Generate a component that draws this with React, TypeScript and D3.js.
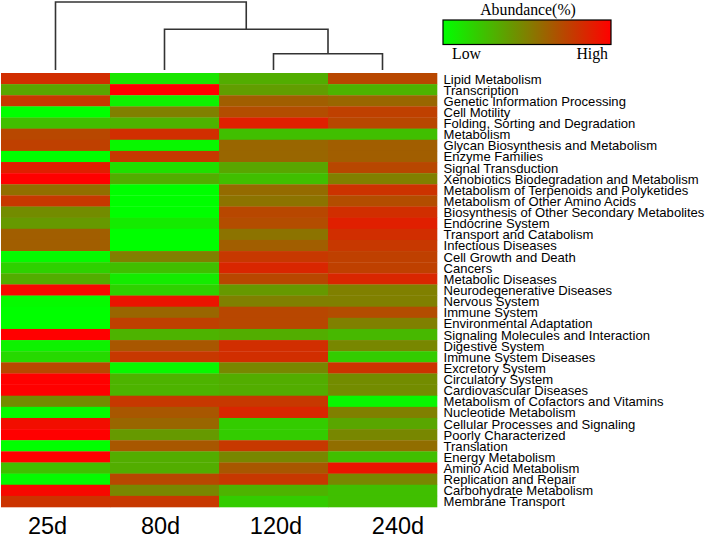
import React from "react";
import * as d3 from "d3";

const categories = [
  "Lipid Metabolism", "Transcription", "Genetic Information Processing", "Cell Motility",
  "Folding, Sorting and Degradation", "Metabolism", "Glycan Biosynthesis and Metabolism",
  "Enzyme Families", "Signal Transduction", "Xenobiotics Biodegradation and Metabolism",
  "Metabolism of Terpenoids and Polyketides", "Metabolism of Other Amino Acids",
  "Biosynthesis of Other Secondary Metabolites", "Endocrine System", "Transport and Catabolism",
  "Infectious Diseases", "Cell Growth and Death", "Cancers", "Metabolic Diseases",
  "Neurodegenerative Diseases", "Nervous System", "Immune System", "Environmental Adaptation",
  "Signaling Molecules and Interaction", "Digestive System", "Immune System Diseases",
  "Excretory System", "Circulatory System", "Cardiovascular Diseases",
  "Metabolism of Cofactors and Vitamins", "Nucleotide Metabolism", "Cellular Processes and Signaling",
  "Poorly Characterized", "Translation", "Energy Metabolism", "Amino Acid Metabolism",
  "Replication and Repair", "Carbohydrate Metabolism", "Membrane Transport",
];

const samples = ["25d", "80d", "120d", "240d"];

const v25 = [0.82, 0.35, 0.78, 0.0, 0.25, 0.72, 0.75, 0.0, 0.88, 1.0, 0.57, 0.78, 0.45, 0.4, 0.63, 0.63, 0.02, 0.18, 0.32, 0.97, 0.02, 0.0, 0.0, 1.0, 0.05, 0.15, 0.72, 1.0, 1.0, 0.45, 0.02, 0.95, 1.0, 0.0, 1.0, 0.25, 0.02, 0.97, 0.8];
const v80 = [0.1, 1.0, 0.05, 0.5, 0.3, 0.82, 0.03, 0.78, 0.12, 0.32, 0.0, 0.0, 0.0, 0.08, 0.0, 0.0, 0.5, 0.25, 0.08, 0.18, 0.92, 0.6, 0.75, 0.3, 0.66, 0.78, 0.03, 0.3, 0.3, 0.78, 0.66, 0.6, 0.4, 0.66, 0.32, 0.32, 0.72, 0.47, 0.78];
const v120 = [0.32, 0.38, 0.63, 0.7, 0.88, 0.25, 0.6, 0.6, 0.35, 0.25, 0.58, 0.55, 0.72, 0.7, 0.55, 0.63, 0.78, 0.85, 0.72, 0.4, 0.5, 0.72, 0.72, 0.32, 0.82, 0.82, 0.47, 0.32, 0.32, 0.78, 0.85, 0.2, 0.2, 0.78, 0.47, 0.66, 0.78, 0.3, 0.2];
const v240 = [0.72, 0.3, 0.6, 0.75, 0.72, 0.25, 0.63, 0.63, 0.72, 0.5, 0.8, 0.7, 0.82, 0.88, 0.82, 0.78, 0.75, 0.75, 0.85, 0.5, 0.5, 0.7, 0.5, 0.28, 0.47, 0.2, 0.8, 0.45, 0.45, 0.03, 0.5, 0.35, 0.47, 0.57, 0.25, 0.92, 0.47, 0.25, 0.25];

const seriesValues = [v25, v80, v120, v240];

// dendrogram merges (sample clustering) with merge heights
const treeData = {
  name: "root", height: 1.0, children: [
    { name: "25d" },
    {
      name: "n2", height: 0.6, children: [
        { name: "80d" },
        { name: "n3", height: 0.24, children: [{ name: "120d" }, { name: "240d" }] },
      ],
    },
  ],
};

const legendTitle = "Abundance(%)";
const legendLow = "Low";
const legendHigh = "High";

export default function App() {
  const W = 709, H = 537;
  const x = d3.scaleBand<string>().domain(samples).range([1, 437]).padding(0);
  const y = d3.scaleBand<string>().domain(categories).range([73, 507]).padding(0);
  const color = d3.scaleLinear<string>().domain([0, 1]).range(["#00ff00", "#ff0000"]).interpolate(d3.interpolateRgb);
  const hY = d3.scaleLinear().domain([0, 1]).range([70, 2]);

  const root = d3.hierarchy<any>(treeData);
  const posX = (n: any): number => {
    if (!n.children) return x(n.data.name)! + x.bandwidth() / 2;
    return (posX(n.children[0]) + posX(n.children[1])) / 2;
  };
  const posY = (n: any): number => hY(n.children ? n.data.height : 0);
  const links: string[] = [];
  root.each((n: any) => {
    if (n.children) {
      const yy = posY(n);
      const [a, b] = n.children;
      links.push(`M${posX(a)},${posY(a)}V${yy}H${posX(b)}V${posY(b)}`);
    }
  });

  const labelNudge = [-8, -4, 2.5, 15.5];
  const gradStops = d3.range(0, 1.0001, 0.1);

  return (
    <svg width={W} height={H} style={{ position: "absolute", left: 0, top: 0, background: "#fff" }}>
      <defs>
        <linearGradient id="lg" x1="0" x2="1" y1="0" y2="0">
          {gradStops.map((t) => (
            <stop key={t} offset={t} stopColor={color(t)} />
          ))}
        </linearGradient>
      </defs>
      <g fill="none" stroke="#333" strokeWidth={1.6}>
        {links.map((d, i) => <path key={i} d={d} />)}
      </g>
      <g>
        {samples.map((s, j) =>
          categories.map((c, i) => (
            <rect key={s + c} x={x(s)} y={y(c)} width={x.bandwidth() + 0.3} height={y.bandwidth() + 0.3}
              fill={color(seriesValues[j][i])} />
          ))
        )}
      </g>
      <g fontFamily="Arial, 'Liberation Sans', sans-serif" fontSize={12} fill="#000">
        {categories.map((c) => (
          <text key={c} transform={`translate(443.5,${y(c)! + y.bandwidth() / 2 + 5}) scale(1.09,1)`}>{c}</text>
        ))}
      </g>
      <g fontFamily="Arial, 'Liberation Sans', sans-serif" fontSize={23.5} fill="#000" textAnchor="middle">
        {samples.map((s, j) => (
          <text key={s} x={x(s)! + x.bandwidth() / 2 + labelNudge[j]} y={533.5}>{s}</text>
        ))}
      </g>
      <g fontFamily="'Times New Roman', 'Liberation Serif', serif" fontSize={15.8} fill="#000">
        <text x={528} y={15} textAnchor="middle">{legendTitle}</text>
        <rect x={443} y={20} width={168} height={24.5} fill="url(#lg)" stroke="#000" strokeWidth={1.2} />
        <text x={452} y={59}>{legendLow}</text>
        <text x={608} y={59} textAnchor="end">{legendHigh}</text>
      </g>
    </svg>
  );
}
